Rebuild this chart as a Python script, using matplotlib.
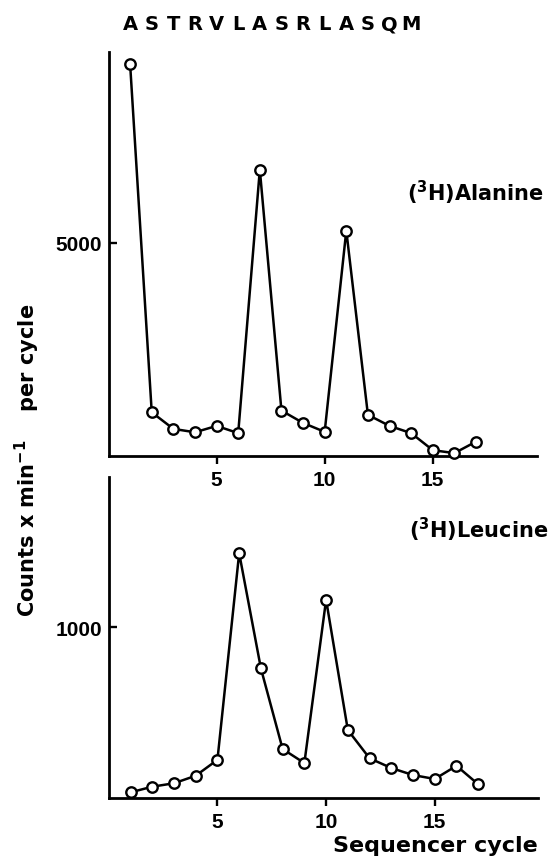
import matplotlib
matplotlib.use("Agg")
import matplotlib.pyplot as plt
import matplotlib.transforms as mtransforms

plt.rcParams['font.family'] = ['DejaVu Sans']
plt.rcParams['font.weight'] = 'bold'
plt.rcParams['mathtext.default'] = 'bf'

# sequencer cycles and the residue assigned to each
cycles = list(range(1, 18))
sequence = list("ASTRVLASRLASQM")

# counts x min-1 per cycle
alanine = [9200, 1020, 630, 550, 700, 530, 6720, 1060, 770, 560,
           5290, 960, 700, 530, 130, 60, 330]
leucine = [35, 68, 88, 132, 225, 1432, 759, 288, 206, 1160,
           399, 234, 177, 136, 113, 190, 82]

fig = plt.figure(figsize=(5.59, 8.62), dpi=100)
ax1 = fig.add_axes([0.1941, 0.4702, 0.7657, 0.4687])
ax2 = fig.add_axes([0.1946, 0.0727, 0.7678, 0.3724])

tick_font = {'family': 'Liberation Sans', 'weight': 'bold', 'size': 15}


def style(ax, series, ymax, xmax, yticks):
    ax.patch.set_visible(False)
    ax.plot(cycles, series, color='black', lw=1.8, marker='o', ms=7.5,
            mfc='white', mec='black', mew=1.7, clip_on=False, zorder=3)
    ax.set_xlim(0, xmax)
    ax.set_ylim(0, ymax)
    for s in ['top', 'right']:
        ax.spines[s].set_visible(False)
    for s in ['left', 'bottom']:
        ax.spines[s].set_linewidth(2.0)
    ax.set_xticks([5, 10, 15])
    ax.set_yticks(yticks)
    ax.tick_params(axis='x', direction='out', length=6, width=1.7, pad=4)
    ax.tick_params(axis='y', direction='in', length=6, width=1.7, pad=5)
    for lab in ax.get_xticklabels() + ax.get_yticklabels():
        lab.set_fontproperties(tick_font)


style(ax1, alanine, 9494, 19.8, [5000])
style(ax2, leucine, 1875, 19.75, [1000])

# sequence letters above their cycles
trans = mtransforms.blended_transform_factory(ax1.transData, fig.transFigure)
for i, letter in enumerate(sequence):
    ax1.text(cycles[i], 0.971, letter, transform=trans, ha='center', va='center',
             fontsize=14, fontweight='bold')

fig.text(407 / 559, 1 - 193 / 862, r'(${}^{3}$H)Alanine', ha='left', va='center',
         fontsize=15, fontweight='bold')
fig.text(409 / 559, 1 - 530 / 862, r'(${}^{3}$H)Leucine', ha='left', va='center',
         fontsize=15, fontweight='bold')

fig.text(538 / 559, 1 - 846 / 862, 'Sequencer cycle', ha='right', va='center',
         fontsize=16, fontweight='bold')
fig.text(27 / 559, 1 - 460 / 862, r'Counts x min$^{-1}$    per cycle', rotation=90,
         ha='center', va='center', fontsize=15, fontweight='bold')

fig.savefig('out.png', dpi=100)
